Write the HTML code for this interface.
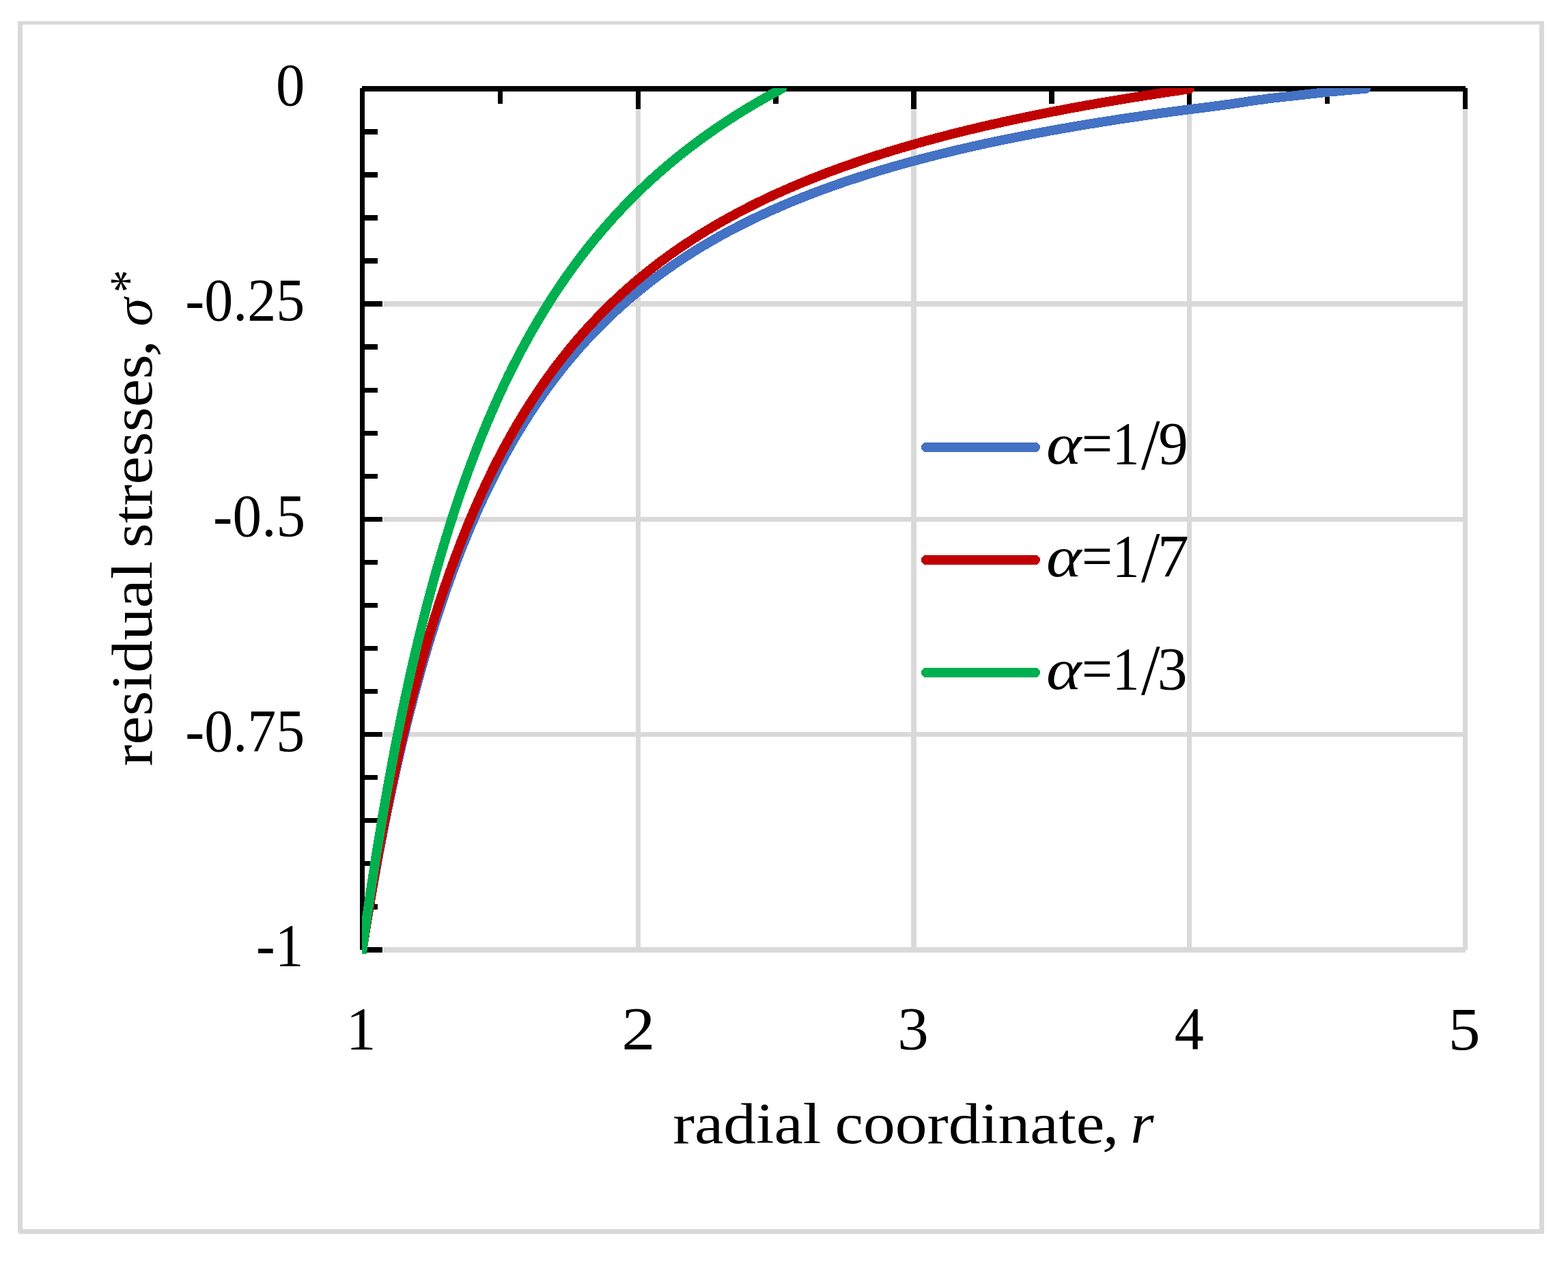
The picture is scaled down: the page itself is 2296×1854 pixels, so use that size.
<!DOCTYPE html>
<html lang="en"><head><meta charset="utf-8"><title>Residual stresses vs radial coordinate</title>
<style>html,body{margin:0;padding:0;background:#fff;overflow:hidden}svg{display:block}text{font-family:"Liberation Serif",serif;fill:#000}.i{font-style:italic}</style></head><body>
<svg role="img" aria-label="Residual stresses versus radial coordinate for three values of alpha" width="2296" height="1854" viewBox="0 0 2296 1854">
<rect x="0" y="0" width="2296" height="1854" fill="#fff"/>
<g shape-rendering="crispEdges">
<rect x="26" y="31" width="2235" height="5" fill="#D9D9D9"/>
<rect x="26" y="31" width="7" height="1774" fill="#D9D9D9"/>
<rect x="2254" y="31" width="7" height="1775" fill="#D9D9D9"/>
<rect x="27" y="1800" width="2233" height="6" fill="#D9D9D9"/>
<rect x="28" y="1806" width="2232" height="1" fill="#D9D9D9"/>
<rect x="561" y="441" width="1585" height="8" fill="#D9D9D9"/>
<rect x="561" y="757" width="1585" height="7" fill="#D9D9D9"/>
<rect x="561" y="1072" width="1585" height="7" fill="#D9D9D9"/>
<rect x="561" y="1387" width="1585" height="8" fill="#D9D9D9"/>
<rect x="931" y="161" width="7" height="1230" fill="#D9D9D9"/>
<rect x="1334" y="161" width="8" height="1230" fill="#D9D9D9"/>
<rect x="1738" y="161" width="7" height="1230" fill="#D9D9D9"/>
<rect x="2142" y="161" width="7" height="1230" fill="#D9D9D9"/>
<rect x="527" y="129" width="7" height="1262" fill="#000"/>
<rect x="530" y="126" width="1616" height="8" fill="#000"/>
<rect x="530" y="189" width="23" height="8" fill="#000"/>
<rect x="530" y="252" width="23" height="8" fill="#000"/>
<rect x="530" y="315" width="23" height="8" fill="#000"/>
<rect x="530" y="378" width="23" height="8" fill="#000"/>
<rect x="530" y="441" width="30" height="8" fill="#000"/>
<rect x="530" y="504" width="23" height="8" fill="#000"/>
<rect x="530" y="568" width="23" height="7" fill="#000"/>
<rect x="530" y="631" width="23" height="7" fill="#000"/>
<rect x="530" y="694" width="23" height="7" fill="#000"/>
<rect x="530" y="757" width="30" height="7" fill="#000"/>
<rect x="530" y="820" width="23" height="7" fill="#000"/>
<rect x="530" y="883" width="23" height="7" fill="#000"/>
<rect x="530" y="946" width="23" height="7" fill="#000"/>
<rect x="530" y="1009" width="23" height="7" fill="#000"/>
<rect x="530" y="1072" width="30" height="7" fill="#000"/>
<rect x="530" y="1135" width="23" height="7" fill="#000"/>
<rect x="530" y="1198" width="23" height="7" fill="#000"/>
<rect x="530" y="1261" width="23" height="7" fill="#000"/>
<rect x="530" y="1324" width="23" height="8" fill="#000"/>
<rect x="530" y="1387" width="30" height="8" fill="#000"/>
<rect x="729" y="129" width="7" height="23" fill="#000"/>
<rect x="931" y="129" width="7" height="31" fill="#000"/>
<rect x="1132" y="129" width="8" height="23" fill="#000"/>
<rect x="1334" y="129" width="8" height="31" fill="#000"/>
<rect x="1536" y="129" width="8" height="23" fill="#000"/>
<rect x="1738" y="129" width="7" height="31" fill="#000"/>
<rect x="1940" y="129" width="7" height="23" fill="#000"/>
<rect x="2142" y="129" width="7" height="31" fill="#000"/>
</g>
<defs><clipPath id="plot"><rect x="530" y="129" width="1640" height="1268"/></clipPath></defs>
<g clip-path="url(#plot)" fill="none" stroke-width="14" stroke-linecap="round" stroke-linejoin="round" shape-rendering="crispEdges">
<path d="M528.9 1400.9 L530.5 1391.0 L531.4 1385.6 L532.2 1380.2 L533.1 1374.7 L534.0 1369.3 L534.8 1363.9 L535.7 1358.5 L536.6 1353.1 L537.5 1347.7 L538.4 1342.2 L539.3 1336.8 L540.2 1331.4 L541.1 1326.0 L542.0 1320.6 L543.0 1315.2 L543.9 1309.8 L544.9 1304.4 L545.8 1299.0 L546.8 1293.6 L547.7 1288.2 L548.7 1282.8 L549.7 1277.4 L550.6 1272.0 L551.6 1266.6 L552.6 1261.2 L553.6 1255.8 L554.6 1250.4 L555.6 1245.0 L556.7 1239.6 L557.7 1234.2 L558.7 1228.8 L559.8 1223.4 L560.8 1218.1 L561.9 1212.7 L563.0 1207.3 L564.0 1201.9 L565.1 1196.5 L566.2 1191.1 L567.3 1185.8 L568.4 1180.4 L569.5 1175.0 L570.6 1169.6 L571.8 1164.3 L572.9 1158.9 L574.1 1153.5 L575.2 1148.2 L576.4 1142.8 L577.6 1137.5 L578.7 1132.1 L579.9 1126.7 L581.1 1121.4 L582.3 1116.0 L583.6 1110.7 L584.8 1105.3 L586.0 1100.0 L587.3 1094.6 L588.5 1089.3 L589.8 1084.0 L591.1 1078.6 L592.4 1073.3 L593.7 1068.0 L595.0 1062.6 L596.3 1057.3 L597.6 1052.0 L598.9 1046.7 L600.3 1041.3 L601.7 1036.0 L603.0 1030.7 L604.4 1025.4 L605.8 1020.1 L607.2 1014.8 L608.6 1009.5 L610.1 1004.2 L611.5 998.9 L613.0 993.6 L614.4 988.3 L615.9 983.0 L617.4 977.7 L618.9 972.5 L620.4 967.2 L621.9 961.9 L623.5 956.7 L625.0 951.4 L626.6 946.1 L628.2 940.9 L629.8 935.6 L631.4 930.4 L633.0 925.1 L634.7 919.9 L636.3 914.7 L638.0 909.5 L639.7 904.2 L641.4 899.0 L643.1 893.8 L644.8 888.6 L646.6 883.4 L648.3 878.2 L650.1 873.0 L651.9 867.8 L653.7 862.6 L655.5 857.5 L657.4 852.3 L659.2 847.1 L661.1 842.0 L663.0 836.8 L664.9 831.7 L666.8 826.5 L668.8 821.4 L670.7 816.3 L672.7 811.2 L674.7 806.1 L676.8 801.0 L678.8 795.9 L680.9 790.8 L682.9 785.7 L685.0 780.6 L687.2 775.6 L689.3 770.5 L691.5 765.5 L693.7 760.4 L695.9 755.4 L698.1 750.4 L700.3 745.4 L702.6 740.4 L704.9 735.4 L707.2 730.4 L709.5 725.5 L711.9 720.5 L714.3 715.6 L716.7 710.6 L719.1 705.7 L721.6 700.8 L724.1 695.9 L726.6 691.0 L729.1 686.2 L731.6 681.3 L734.2 676.5 L736.8 671.6 L739.4 666.8 L742.1 662.0 L744.8 657.2 L747.5 652.4 L750.2 647.7 L752.9 642.9 L755.7 638.2 L758.5 633.5 L761.4 628.8 L764.2 624.1 L767.1 619.4 L770.1 614.8 L773.0 610.2 L776.0 605.6 L779.0 601.0 L782.0 596.4 L785.1 591.8 L788.2 587.3 L791.3 582.8 L794.4 578.3 L797.6 573.8 L800.8 569.4 L804.0 564.9 L807.3 560.5 L810.6 556.1 L813.9 551.8 L817.3 547.4 L820.7 543.1 L824.1 538.8 L827.5 534.5 L831.0 530.3 L834.5 526.1 L838.0 521.9 L841.6 517.7 L845.2 513.5 L848.8 509.4 L852.4 505.3 L856.1 501.2 L859.8 497.2 L863.6 493.2 L867.3 489.2 L871.1 485.2 L875.0 481.3 L878.8 477.4 L882.7 473.5 L886.6 469.7 L890.6 465.8 L894.5 462.1 L898.5 458.3 L902.5 454.6 L906.6 450.9 L910.7 447.2 L914.8 443.6 L918.9 439.9 L923.1 436.4 L927.3 432.8 L931.5 429.3 L935.7 425.8 L940.0 422.4 L944.3 418.9 L948.6 415.5 L952.9 412.2 L957.3 408.8 L961.7 405.5 L966.1 402.3 L970.5 399.0 L974.9 395.8 L979.4 392.7 L983.9 389.5 L988.4 386.4 L993.0 383.3 L997.5 380.3 L1002.1 377.3 L1006.7 374.3 L1011.4 371.3 L1016.0 368.4 L1020.7 365.5 L1025.3 362.6 L1030.0 359.8 L1034.8 357.0 L1039.5 354.2 L1044.2 351.5 L1049.0 348.8 L1053.8 346.1 L1058.6 343.4 L1063.4 340.8 L1068.3 338.2 L1073.1 335.6 L1078.0 333.1 L1082.9 330.6 L1087.7 328.1 L1092.7 325.6 L1097.6 323.2 L1102.5 320.8 L1107.5 318.4 L1112.4 316.1 L1117.4 313.8 L1122.4 311.5 L1127.4 309.2 L1132.4 307.0 L1137.4 304.8 L1142.4 302.6 L1147.5 300.4 L1152.5 298.3 L1157.6 296.1 L1162.7 294.0 L1167.7 292.0 L1172.8 289.9 L1177.9 287.9 L1183.0 285.9 L1188.2 283.9 L1193.3 282.0 L1198.4 280.0 L1203.6 278.1 L1208.7 276.2 L1213.9 274.4 L1219.0 272.5 L1224.2 270.7 L1229.4 268.9 L1234.6 267.1 L1239.8 265.3 L1245.0 263.6 L1250.2 261.9 L1255.4 260.2 L1260.6 258.5 L1265.9 256.8 L1271.1 255.2 L1276.3 253.5 L1281.6 251.9 L1286.8 250.3 L1292.1 248.7 L1297.3 247.2 L1302.6 245.6 L1307.9 244.1 L1313.2 242.6 L1318.4 241.1 L1323.7 239.6 L1329.0 238.2 L1334.3 236.7 L1339.6 235.3 L1344.9 233.9 L1350.2 232.5 L1355.5 231.1 L1360.8 229.7 L1366.2 228.4 L1371.5 227.0 L1376.8 225.7 L1382.1 224.4 L1387.5 223.1 L1392.8 221.8 L1398.1 220.5 L1403.5 219.2 L1408.8 218.0 L1414.2 216.8 L1419.5 215.5 L1424.9 214.3 L1430.2 213.1 L1435.6 211.9 L1440.9 210.8 L1446.3 209.6 L1451.7 208.5 L1457.0 207.3 L1462.4 206.2 L1467.8 205.1 L1473.2 204.0 L1478.5 202.9 L1483.9 201.8 L1489.3 200.7 L1494.7 199.7 L1500.1 198.6 L1505.4 197.6 L1510.8 196.5 L1516.2 195.5 L1521.6 194.5 L1527.0 193.5 L1532.4 192.5 L1537.8 191.5 L1543.2 190.5 L1548.6 189.6 L1554.0 188.6 L1559.4 187.7 L1564.8 186.7 L1570.2 185.8 L1575.6 184.9 L1581.1 183.9 L1586.5 183.0 L1591.9 182.1 L1597.3 181.3 L1602.7 180.4 L1608.1 179.5 L1613.5 178.6 L1619.0 177.8 L1624.4 176.9 L1629.8 176.1 L1635.2 175.2 L1640.7 174.4 L1646.1 173.6 L1651.5 172.8 L1656.9 172.0 L1662.4 171.2 L1667.8 170.4 L1673.2 169.6 L1678.7 168.8 L1684.1 168.0 L1689.5 167.2 L1695.0 166.5 L1700.4 165.7 L1705.8 165.0 L1711.3 164.2 L1716.7 163.5 L1722.1 162.8 L1727.6 162.0 L1733.0 161.3 L1738.5 160.6 L1743.9 159.9 L1749.4 159.3 L1754.8 158.6 L1760.2 157.9 L1765.7 157.2 L1771.1 156.6 L1776.6 155.8 L1782.0 155.1 L1787.5 154.4 L1792.9 153.6 L1798.3 152.9 L1803.8 152.1 L1809.2 151.3 L1814.6 150.5 L1820.0 149.7 L1825.5 148.8 L1830.9 148.1 L1836.3 147.3 L1841.8 146.5 L1847.2 145.8 L1852.6 145.0 L1858.1 144.3 L1863.5 143.7 L1869.0 143.0 L1874.4 142.4 L1879.9 141.8 L1885.3 141.3 L1890.8 140.7 L1896.3 140.1 L1901.7 139.5 L1907.2 138.9 L1912.6 138.2 L1918.1 137.6 L1923.5 137.0 L1929.0 136.4 L1934.4 135.8 L1939.9 135.2 L1945.3 134.7 L1950.8 134.1 L1956.3 133.6 L1961.7 133.1 L1967.2 132.6 L1972.7 132.1 L1978.1 131.6 L1983.6 131.2 L1989.1 130.7 L1994.5 130.2 L2000.0 129.8" stroke="#4472C4"/>
<path d="M529.0 1400.9 L530.5 1391.0 L531.2 1386.2 L532.0 1381.3 L532.7 1376.5 L533.5 1371.7 L534.3 1366.9 L535.0 1362.0 L535.8 1357.2 L536.6 1352.4 L537.3 1347.6 L538.1 1342.7 L538.9 1337.9 L539.7 1333.1 L540.5 1328.3 L541.3 1323.4 L542.1 1318.6 L542.9 1313.8 L543.7 1309.0 L544.5 1304.2 L545.4 1299.4 L546.2 1294.5 L547.0 1289.7 L547.9 1284.9 L548.7 1280.1 L549.5 1275.3 L550.4 1270.5 L551.3 1265.7 L552.1 1260.9 L553.0 1256.0 L553.9 1251.2 L554.7 1246.4 L555.6 1241.6 L556.5 1236.8 L557.4 1232.0 L558.3 1227.2 L559.2 1222.4 L560.1 1217.6 L561.1 1212.8 L562.0 1208.0 L562.9 1203.2 L563.9 1198.4 L564.8 1193.6 L565.8 1188.8 L566.7 1184.0 L567.7 1179.2 L568.6 1174.5 L569.6 1169.7 L570.6 1164.9 L571.6 1160.1 L572.6 1155.3 L573.6 1150.5 L574.6 1145.7 L575.6 1141.0 L576.6 1136.2 L577.6 1131.4 L578.7 1126.6 L579.7 1121.9 L580.8 1117.1 L581.8 1112.3 L582.9 1107.5 L583.9 1102.8 L585.0 1098.0 L586.1 1093.2 L587.2 1088.5 L588.3 1083.7 L589.4 1079.0 L590.5 1074.2 L591.6 1069.4 L592.8 1064.7 L593.9 1059.9 L595.0 1055.2 L596.2 1050.4 L597.4 1045.7 L598.5 1040.9 L599.7 1036.2 L600.9 1031.5 L602.1 1026.7 L603.3 1022.0 L604.5 1017.3 L605.7 1012.5 L607.0 1007.8 L608.2 1003.1 L609.4 998.3 L610.7 993.6 L612.0 988.9 L613.2 984.2 L614.5 979.5 L615.8 974.8 L617.1 970.1 L618.5 965.3 L619.8 960.6 L621.1 955.9 L622.5 951.2 L623.8 946.6 L625.2 941.9 L626.6 937.2 L627.9 932.5 L629.3 927.8 L630.8 923.1 L632.2 918.4 L633.6 913.8 L635.0 909.1 L636.5 904.4 L638.0 899.8 L639.4 895.1 L640.9 890.5 L642.4 885.8 L643.9 881.2 L645.5 876.5 L647.0 871.9 L648.6 867.3 L650.1 862.6 L651.7 858.0 L653.3 853.4 L654.9 848.8 L656.5 844.1 L658.1 839.5 L659.8 834.9 L661.4 830.3 L663.1 825.7 L664.8 821.2 L666.4 816.6 L668.2 812.0 L669.9 807.4 L671.6 802.9 L673.4 798.3 L675.1 793.7 L676.9 789.2 L678.7 784.6 L680.5 780.1 L682.3 775.6 L684.2 771.0 L686.0 766.5 L687.9 762.0 L689.8 757.5 L691.7 753.0 L693.6 748.5 L695.6 744.0 L697.5 739.5 L699.5 735.1 L701.5 730.6 L703.5 726.2 L705.5 721.7 L707.6 717.3 L709.6 712.8 L711.7 708.4 L713.8 704.0 L715.9 699.6 L718.0 695.2 L720.2 690.8 L722.3 686.4 L724.5 682.0 L726.7 677.7 L728.9 673.3 L731.2 669.0 L733.4 664.7 L735.7 660.3 L738.0 656.0 L740.4 651.7 L742.7 647.4 L745.1 643.2 L747.4 638.9 L749.8 634.6 L752.3 630.4 L754.7 626.2 L757.2 621.9 L759.7 617.7 L762.2 613.5 L764.7 609.4 L767.2 605.2 L769.8 601.0 L772.4 596.9 L775.0 592.8 L777.7 588.6 L780.3 584.5 L783.0 580.5 L785.7 576.4 L788.4 572.3 L791.2 568.3 L793.9 564.3 L796.7 560.3 L799.5 556.3 L802.4 552.3 L805.2 548.3 L808.1 544.4 L811.0 540.5 L814.0 536.5 L816.9 532.6 L819.9 528.8 L822.9 524.9 L825.9 521.1 L829.0 517.3 L832.0 513.5 L835.1 509.7 L838.2 505.9 L841.4 502.2 L844.5 498.4 L847.7 494.7 L850.9 491.0 L854.2 487.4 L857.4 483.7 L860.7 480.1 L864.0 476.5 L867.3 472.9 L870.7 469.4 L874.0 465.8 L877.4 462.3 L880.8 458.8 L884.3 455.3 L887.7 451.9 L891.2 448.4 L894.7 445.0 L898.2 441.7 L901.8 438.3 L905.4 435.0 L908.9 431.6 L912.6 428.3 L916.2 425.1 L919.8 421.8 L923.5 418.6 L927.2 415.4 L930.9 412.2 L934.7 409.1 L938.4 406.0 L942.2 402.9 L946.0 399.8 L949.8 396.7 L953.6 393.7 L957.5 390.7 L961.4 387.7 L965.2 384.7 L969.1 381.8 L973.1 378.9 L977.0 376.0 L981.0 373.1 L985.0 370.3 L988.9 367.5 L993.0 364.7 L997.0 361.9 L1001.0 359.2 L1005.1 356.5 L1009.2 353.8 L1013.3 351.1 L1017.4 348.5 L1021.5 345.8 L1025.6 343.2 L1029.8 340.7 L1033.9 338.1 L1038.1 335.6 L1042.3 333.1 L1046.5 330.6 L1050.8 328.1 L1055.0 325.7 L1059.2 323.3 L1063.5 320.9 L1067.8 318.5 L1072.1 316.2 L1076.4 313.8 L1080.7 311.5 L1085.0 309.3 L1089.3 307.0 L1093.7 304.8 L1098.0 302.5 L1102.4 300.3 L1106.8 298.2 L1111.1 296.0 L1115.5 293.9 L1119.9 291.8 L1124.4 289.7 L1128.8 287.6 L1133.2 285.5 L1137.7 283.5 L1142.1 281.5 L1146.6 279.5 L1151.0 277.5 L1155.5 275.6 L1160.0 273.6 L1164.5 271.7 L1169.0 269.8 L1173.5 267.9 L1178.0 266.1 L1182.6 264.2 L1187.1 262.4 L1191.6 260.6 L1196.2 258.8 L1200.7 257.0 L1205.3 255.3 L1209.8 253.5 L1214.4 251.8 L1219.0 250.1 L1223.6 248.4 L1228.2 246.7 L1232.8 245.0 L1237.4 243.4 L1242.0 241.8 L1246.6 240.2 L1251.2 238.6 L1255.8 237.0 L1260.5 235.4 L1265.1 233.9 L1269.7 232.3 L1274.4 230.8 L1279.0 229.3 L1283.7 227.8 L1288.3 226.3 L1293.0 224.8 L1297.7 223.4 L1302.3 221.9 L1307.0 220.5 L1311.7 219.1 L1316.4 217.7 L1321.0 216.3 L1325.7 214.9 L1330.4 213.6 L1335.1 212.2 L1339.8 210.9 L1344.5 209.5 L1349.2 208.2 L1353.9 206.9 L1358.6 205.6 L1363.4 204.4 L1368.1 203.1 L1372.8 201.8 L1377.5 200.6 L1382.3 199.3 L1387.0 198.1 L1391.7 196.9 L1396.5 195.7 L1401.2 194.5 L1405.9 193.3 L1410.7 192.2 L1415.4 191.0 L1420.2 189.8 L1424.9 188.7 L1429.7 187.6 L1434.4 186.4 L1439.2 185.3 L1444.0 184.2 L1448.7 183.1 L1453.5 182.0 L1458.2 181.0 L1463.0 179.9 L1467.8 178.8 L1472.6 177.8 L1477.3 176.7 L1482.1 175.7 L1486.9 174.7 L1491.7 173.7 L1496.4 172.7 L1501.2 171.7 L1506.0 170.7 L1510.8 169.7 L1515.6 168.7 L1520.4 167.7 L1525.2 166.8 L1530.0 165.8 L1534.8 164.9 L1539.6 163.9 L1544.3 163.0 L1549.1 162.1 L1553.9 161.2 L1558.7 160.2 L1563.5 159.3 L1568.4 158.4 L1573.2 157.6 L1578.0 156.7 L1582.8 155.8 L1587.6 154.9 L1592.4 154.1 L1597.2 153.2 L1602.0 152.4 L1606.8 151.5 L1611.6 150.7 L1616.5 149.8 L1621.3 149.0 L1626.1 148.2 L1630.9 147.4 L1635.7 146.6 L1640.5 145.8 L1645.4 145.0 L1650.2 144.2 L1655.0 143.4 L1659.8 142.6 L1664.7 141.9 L1669.5 141.1 L1674.3 140.3 L1679.1 139.6 L1684.0 138.8 L1688.8 138.1 L1693.6 137.3 L1698.5 136.6 L1703.3 135.9 L1708.1 135.1 L1713.0 134.4 L1717.8 133.7 L1722.6 133.0 L1727.5 132.3 L1732.3 131.6 L1737.1 130.9 L1741.8 130.0" stroke="#C00000"/>
<path d="M529.1 1400.9 L530.5 1391.0 L531.0 1387.4 L531.5 1383.7 L532.0 1380.1 L532.5 1376.5 L533.0 1372.9 L533.5 1369.2 L534.0 1365.6 L534.5 1362.0 L535.0 1358.3 L535.6 1354.7 L536.1 1351.1 L536.6 1347.5 L537.1 1343.8 L537.6 1340.2 L538.2 1336.6 L538.7 1333.0 L539.2 1329.3 L539.7 1325.7 L540.3 1322.1 L540.8 1318.5 L541.3 1314.8 L541.9 1311.2 L542.4 1307.6 L543.0 1304.0 L543.5 1300.3 L544.1 1296.7 L544.6 1293.1 L545.2 1289.5 L545.7 1285.8 L546.3 1282.2 L546.8 1278.6 L547.4 1275.0 L547.9 1271.4 L548.5 1267.7 L549.1 1264.1 L549.6 1260.5 L550.2 1256.9 L550.8 1253.3 L551.4 1249.6 L552.0 1246.0 L552.5 1242.4 L553.1 1238.8 L553.7 1235.2 L554.3 1231.6 L554.9 1227.9 L555.5 1224.3 L556.1 1220.7 L556.7 1217.1 L557.3 1213.5 L557.9 1209.9 L558.5 1206.3 L559.1 1202.6 L559.7 1199.0 L560.3 1195.4 L560.9 1191.8 L561.5 1188.2 L562.2 1184.6 L562.8 1181.0 L563.4 1177.4 L564.0 1173.8 L564.7 1170.1 L565.3 1166.5 L566.0 1162.9 L566.6 1159.3 L567.2 1155.7 L567.9 1152.1 L568.5 1148.5 L569.2 1144.9 L569.8 1141.3 L570.5 1137.7 L571.2 1134.1 L571.8 1130.5 L572.5 1126.9 L573.2 1123.3 L573.8 1119.7 L574.5 1116.1 L575.2 1112.5 L575.9 1108.9 L576.5 1105.3 L577.2 1101.7 L577.9 1098.1 L578.6 1094.5 L579.3 1090.9 L580.0 1087.3 L580.7 1083.7 L581.4 1080.1 L582.1 1076.5 L582.8 1072.9 L583.6 1069.3 L584.3 1065.7 L585.0 1062.1 L585.7 1058.5 L586.5 1054.9 L587.2 1051.4 L587.9 1047.8 L588.7 1044.2 L589.4 1040.6 L590.2 1037.0 L590.9 1033.4 L591.7 1029.8 L592.4 1026.2 L593.2 1022.7 L593.9 1019.1 L594.7 1015.5 L595.5 1011.9 L596.3 1008.3 L597.0 1004.8 L597.8 1001.2 L598.6 997.6 L599.4 994.0 L600.2 990.4 L601.0 986.9 L601.8 983.3 L602.6 979.7 L603.4 976.1 L604.2 972.6 L605.0 969.0 L605.9 965.4 L606.7 961.9 L607.5 958.3 L608.3 954.7 L609.2 951.2 L610.0 947.6 L610.9 944.0 L611.7 940.5 L612.6 936.9 L613.4 933.3 L614.3 929.8 L615.2 926.2 L616.0 922.7 L616.9 919.1 L617.8 915.5 L618.7 912.0 L619.6 908.4 L620.5 904.9 L621.4 901.3 L622.3 897.8 L623.2 894.2 L624.1 890.7 L625.0 887.1 L625.9 883.6 L626.9 880.1 L627.8 876.5 L628.7 873.0 L629.7 869.4 L630.6 865.9 L631.6 862.3 L632.5 858.8 L633.5 855.3 L634.5 851.7 L635.4 848.2 L636.4 844.7 L637.4 841.1 L638.4 837.6 L639.4 834.1 L640.4 830.6 L641.4 827.0 L642.4 823.5 L643.4 820.0 L644.4 816.5 L645.5 813.0 L646.5 809.5 L647.5 805.9 L648.6 802.4 L649.6 798.9 L650.7 795.4 L651.7 791.9 L652.8 788.4 L653.9 784.9 L655.0 781.4 L656.0 777.9 L657.1 774.4 L658.2 770.9 L659.3 767.4 L660.4 763.9 L661.5 760.4 L662.7 756.9 L663.8 753.4 L664.9 750.0 L666.1 746.5 L667.2 743.0 L668.4 739.5 L669.5 736.0 L670.7 732.6 L671.9 729.1 L673.0 725.6 L674.2 722.2 L675.4 718.7 L676.6 715.2 L677.8 711.8 L679.0 708.3 L680.3 704.9 L681.5 701.4 L682.7 698.0 L684.0 694.5 L685.2 691.1 L686.5 687.6 L687.7 684.2 L689.0 680.8 L690.3 677.3 L691.6 673.9 L692.9 670.5 L694.2 667.0 L695.5 663.6 L696.8 660.2 L698.1 656.8 L699.5 653.4 L700.8 650.0 L702.1 646.6 L703.5 643.2 L704.9 639.7 L706.2 636.4 L707.6 633.0 L709.0 629.6 L710.4 626.2 L711.8 622.8 L713.2 619.4 L714.6 616.0 L716.1 612.7 L717.5 609.3 L719.0 605.9 L720.4 602.6 L721.9 599.2 L723.3 595.9 L724.8 592.5 L726.3 589.2 L727.8 585.8 L729.3 582.5 L730.9 579.1 L732.4 575.8 L733.9 572.5 L735.5 569.2 L737.0 565.9 L738.6 562.5 L740.2 559.2 L741.7 555.9 L743.3 552.6 L744.9 549.3 L746.6 546.0 L748.2 542.8 L749.8 539.5 L751.4 536.2 L753.1 532.9 L754.8 529.7 L756.4 526.4 L758.1 523.2 L759.8 519.9 L761.5 516.7 L763.2 513.4 L764.9 510.2 L766.7 507.0 L768.4 503.7 L770.2 500.5 L771.9 497.3 L773.7 494.1 L775.5 490.9 L777.3 487.7 L779.1 484.5 L780.9 481.3 L782.8 478.2 L784.6 475.0 L786.5 471.8 L788.3 468.7 L790.2 465.5 L792.1 462.4 L794.0 459.3 L795.9 456.1 L797.8 453.0 L799.7 449.9 L801.7 446.8 L803.6 443.7 L805.6 440.6 L807.5 437.5 L809.5 434.4 L811.5 431.4 L813.5 428.3 L815.6 425.2 L817.6 422.2 L819.6 419.1 L821.7 416.1 L823.8 413.1 L825.8 410.1 L827.9 407.1 L830.0 404.1 L832.1 401.1 L834.3 398.1 L836.4 395.1 L838.6 392.1 L840.7 389.2 L842.9 386.2 L845.1 383.3 L847.3 380.4 L849.5 377.4 L851.7 374.5 L853.9 371.6 L856.2 368.7 L858.4 365.8 L860.7 363.0 L863.0 360.1 L865.3 357.2 L867.6 354.4 L869.9 351.5 L872.2 348.7 L874.6 345.9 L876.9 343.1 L879.3 340.3 L881.7 337.5 L884.1 334.7 L886.5 332.0 L888.9 329.2 L891.3 326.4 L893.7 323.7 L896.2 321.0 L898.6 318.3 L901.1 315.6 L903.6 312.9 L906.1 310.2 L908.6 307.5 L911.1 304.9 L913.6 302.2 L916.2 299.6 L918.7 296.9 L921.3 294.3 L923.9 291.7 L926.4 289.1 L929.0 286.5 L931.7 284.0 L934.3 281.4 L936.9 278.8 L939.6 276.3 L942.2 273.8 L944.9 271.3 L947.5 268.8 L950.2 266.3 L952.9 263.8 L955.6 261.3 L958.4 258.9 L961.1 256.4 L963.8 254.0 L966.6 251.6 L969.3 249.2 L972.1 246.8 L974.9 244.4 L977.7 242.0 L980.5 239.7 L983.3 237.3 L986.1 235.0 L989.0 232.6 L991.8 230.3 L994.7 228.0 L997.5 225.7 L1000.4 223.5 L1003.3 221.2 L1006.2 219.0 L1009.1 216.7 L1012.0 214.5 L1014.9 212.3 L1017.8 210.1 L1020.8 207.9 L1023.7 205.7 L1026.7 203.5 L1029.6 201.4 L1032.6 199.2 L1035.6 197.1 L1038.6 195.0 L1041.6 192.9 L1044.6 190.8 L1047.6 188.7 L1050.6 186.7 L1053.6 184.6 L1056.7 182.5 L1059.7 180.5 L1062.8 178.5 L1065.8 176.5 L1068.9 174.5 L1072.0 172.5 L1075.1 170.5 L1078.2 168.6 L1081.3 166.6 L1084.4 164.7 L1087.5 162.7 L1090.6 160.8 L1093.8 158.9 L1096.9 157.0 L1100.0 155.2 L1103.2 153.3 L1106.3 151.4 L1109.5 149.6 L1112.7 147.7 L1115.9 145.9 L1119.0 144.1 L1122.2 142.3 L1125.4 140.5 L1128.6 138.7 L1131.8 137.0 L1135.0 135.2 L1138.3 133.5 L1141.5 131.7 L1144.7 130.0" stroke="#00B050"/>
</g>
<g fill="none" stroke-width="14" stroke-linecap="round" shape-rendering="crispEdges">
<line x1="1356" y1="655" x2="1516" y2="655" stroke="#4472C4"/>
<line x1="1356" y1="820" x2="1516" y2="820" stroke="#C00000"/>
<line x1="1356" y1="985" x2="1516" y2="985" stroke="#00B050"/>
</g>
<text><tspan x="403.93" y="154" font-size="88.5" textLength="42.39" lengthAdjust="spacingAndGlyphs">0</tspan></text>
<text><tspan x="271.15" y="469" font-size="88.5" textLength="175.24" lengthAdjust="spacingAndGlyphs">-0.25</tspan></text>
<text><tspan x="312.11" y="785" font-size="88.5" textLength="135.05" lengthAdjust="spacingAndGlyphs">-0.5</tspan></text>
<text><tspan x="271.15" y="1100" font-size="88.5" textLength="175.24" lengthAdjust="spacingAndGlyphs">-0.75</tspan></text>
<text><tspan x="375.08" y="1414" font-size="88.5" textLength="69.42" lengthAdjust="spacingAndGlyphs">-1</tspan></text>
<text><tspan x="506.68" y="1536" font-size="88.5" textLength="43.82" lengthAdjust="spacingAndGlyphs">1</tspan></text>
<text><tspan x="910.15" y="1536" font-size="88.5" textLength="49.18" lengthAdjust="spacingAndGlyphs">2</tspan></text>
<text><tspan x="1314.39" y="1536" font-size="88.5" textLength="45.45" lengthAdjust="spacingAndGlyphs">3</tspan></text>
<text><tspan x="1719.75" y="1536" font-size="88.5" textLength="43.06" lengthAdjust="spacingAndGlyphs">4</tspan></text>
<text><tspan x="2120.71" y="1537" font-size="88.5" textLength="46.83" lengthAdjust="spacingAndGlyphs">5</tspan></text>
<text><tspan x="985.23" y="1674" font-size="84" textLength="217.16" lengthAdjust="spacingAndGlyphs">radial</tspan> <tspan x="1222.46" y="1674" font-size="84" textLength="394.93" lengthAdjust="spacingAndGlyphs">coordinate</tspan><tspan x="1614.15" y="1674" font-size="87" font-style="italic" textLength="24.26" lengthAdjust="spacingAndGlyphs">,</tspan> <tspan x="1655.63" y="1674" font-size="84" font-style="italic" textLength="34.06" lengthAdjust="spacingAndGlyphs">r</tspan></text>
<text><tspan x="1532.13" y="679" font-size="85" font-style="italic" textLength="51.58" lengthAdjust="spacingAndGlyphs">α</tspan><tspan x="1583.90" y="679" font-size="88.5" textLength="84.75" lengthAdjust="spacingAndGlyphs">=1</tspan><tspan x="1670.90" y="687" font-size="106" textLength="27.52" lengthAdjust="spacingAndGlyphs">/</tspan><tspan x="1696.25" y="679" font-size="88.5" textLength="43.55" lengthAdjust="spacingAndGlyphs">9</tspan></text>
<text><tspan x="1532.13" y="844" font-size="85" font-style="italic" textLength="51.58" lengthAdjust="spacingAndGlyphs">α</tspan><tspan x="1583.90" y="844" font-size="88.5" textLength="84.75" lengthAdjust="spacingAndGlyphs">=1</tspan><tspan x="1670.90" y="852" font-size="106" textLength="27.52" lengthAdjust="spacingAndGlyphs">/</tspan><tspan x="1694.73" y="844" font-size="88.5" textLength="46.22" lengthAdjust="spacingAndGlyphs">7</tspan></text>
<text><tspan x="1532.13" y="1009" font-size="85" font-style="italic" textLength="51.58" lengthAdjust="spacingAndGlyphs">α</tspan><tspan x="1583.90" y="1009" font-size="88.5" textLength="84.75" lengthAdjust="spacingAndGlyphs">=1</tspan><tspan x="1670.90" y="1017" font-size="106" textLength="27.52" lengthAdjust="spacingAndGlyphs">/</tspan><tspan x="1694.83" y="1009" font-size="88.5" textLength="43.89" lengthAdjust="spacingAndGlyphs">3</tspan></text>
<text transform="translate(222 1120) rotate(-90)"><tspan x="-2.26" y="0" font-size="84" textLength="300.31" lengthAdjust="spacingAndGlyphs">residual</tspan> <tspan x="317.79" y="0" font-size="84" textLength="283.12" lengthAdjust="spacingAndGlyphs">stresses</tspan><tspan x="597.65" y="0" font-size="87" font-style="italic" textLength="24.26" lengthAdjust="spacingAndGlyphs">,</tspan> <tspan x="641.95" y="0" font-size="78" font-style="italic" textLength="41.43" lengthAdjust="spacingAndGlyphs">σ</tspan><tspan x="691.42" y="-8.7" font-size="77" textLength="33.50" lengthAdjust="spacingAndGlyphs">*</tspan></text>
</svg></body></html>
